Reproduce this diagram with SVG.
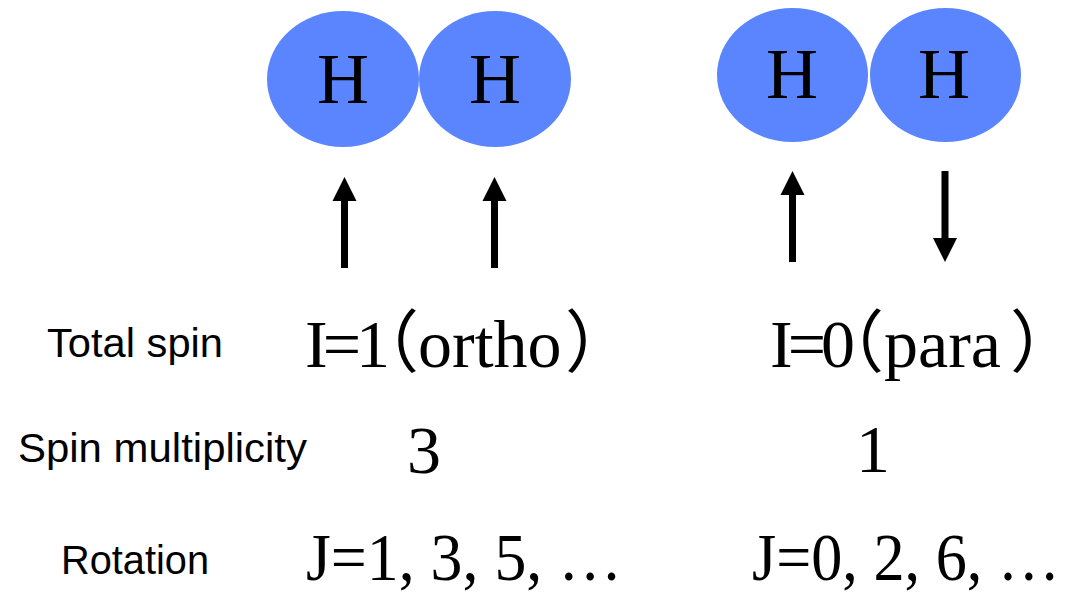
<svg xmlns="http://www.w3.org/2000/svg" width="1072" height="592" viewBox="0 0 1072 592">
<style>
.atom{fill:#5b84ff;}
.h{font-family:"Liberation Serif","Times New Roman",serif;font-size:72px;fill:#000;text-anchor:middle;}
.lbl{font-family:"Liberation Sans",Arial,sans-serif;font-size:41px;fill:#000;}
.val{font-family:"Liberation Serif","Times New Roman","Noto Sans CJK JP",serif;font-size:68px;fill:#000;}
.tight{letter-spacing:-5px;}
.spin{fill:#000;}
</style>
<defs>
<path id="up" d="M-3.5,0 V-67 H-12 L0,-91 L12,-67 H3.5 V0 Z"/>
</defs>
<g id="molecule-ortho">
<ellipse class="atom" cx="343" cy="79" rx="76" ry="68"/>
<ellipse class="atom" cx="495" cy="79" rx="76" ry="68"/>
<text class="h" x="343" y="103">H</text>
<text class="h" x="495" y="103">H</text>
</g>
<g id="molecule-para">
<ellipse class="atom" cx="792.5" cy="75" rx="75.5" ry="67"/>
<ellipse class="atom" cx="945.5" cy="75" rx="75.5" ry="67"/>
<text class="h" x="792" y="98">H</text>
<text class="h" x="944" y="98">H</text>
</g>
<g id="spins">
<use class="spin" href="#up" transform="translate(344.5,268)"/>
<use class="spin" href="#up" transform="translate(494.5,268)"/>
<use class="spin" href="#up" transform="translate(792.5,262)"/>
<use class="spin" href="#up" transform="translate(945,171) scale(1,-1)"/>
</g>
<g id="labels">
<text class="lbl" x="47" y="357" textLength="176" lengthAdjust="spacingAndGlyphs">Total spin</text>
<text class="lbl" x="18" y="462" textLength="289" lengthAdjust="spacingAndGlyphs">Spin multiplicity</text>
<text class="lbl" x="61" y="574" textLength="148" lengthAdjust="spacingAndGlyphs">Rotation</text>
</g>
<g id="values">
<text class="val" y="367"><tspan class="tight" x="305">I=1</tspan><tspan x="351">（</tspan><tspan x="418">ortho</tspan><tspan x="565">）</tspan></text>
<text class="val" y="367"><tspan class="tight" x="770">I=0</tspan><tspan x="816">（</tspan><tspan x="884">para</tspan><tspan x="1010">）</tspan></text>
<text class="val" x="424" y="473" text-anchor="middle">3</text>
<text class="val" x="873" y="472" text-anchor="middle">1</text>
<text class="val" x="306" y="580" textLength="316" lengthAdjust="spacingAndGlyphs">J=1, 3, 5, …</text>
<text class="val" x="752" y="580" textLength="308" lengthAdjust="spacingAndGlyphs">J=0, 2, 6, …</text>
</g>
</svg>
